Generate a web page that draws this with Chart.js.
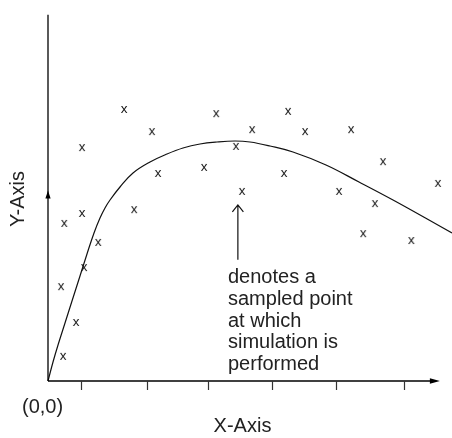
<!DOCTYPE html>
<html>
<head>
<meta charset="utf-8">
<script src="https://cdn.jsdelivr.net/npm/chart.js@4/dist/chart.umd.min.js"></script>
<style>
  html, body { margin: 0; padding: 0; background: #fff; }
  canvas { display: block; }
</style>
</head>
<body>
<canvas id="c" width="452" height="438"></canvas>
<script>
// ---- data ----
const sampleX = [18.8, 41.6, 59.4, 25.7, 50.5, 63.6, 75.0, 8.4, 46.5, 82.9, 38.6, 27.2, 58.4, 96.5, 48.0, 72.0, 21.3, 8.4, 80.9, 4.0, 78.0, 12.4, 89.9, 8.9, 3.2, 6.9, 3.7];
const sampleY = [71.4, 70.3, 70.9, 65.6, 66.1, 65.6, 66.1, 61.4, 61.7, 57.7, 56.2, 54.6, 54.6, 52.0, 49.9, 49.9, 45.1, 44.1, 46.7, 41.5, 38.8, 36.5, 37.0, 29.9, 24.9, 15.5, 6.6];
const curveX = [0, 1.24, 2.48, 4.21, 5.94, 7.92, 9.65, 11.39, 12.87, 14.11, 15.35, 17.82, 21.04, 25.25, 29.46, 33.42, 37.62, 41.83, 46.29, 50.0, 54.95, 60.64, 68.81, 76.98, 85.40, 94.31, 100];
const curveY = [0, 4.99, 9.45, 15.22, 21.00, 27.56, 33.33, 38.85, 42.78, 45.41, 47.51, 50.92, 54.59, 57.48, 59.58, 61.15, 62.20, 62.73, 62.99, 62.73, 61.68, 60.10, 56.69, 52.23, 47.51, 42.26, 38.85];
const xTicks = [8.2, 24.5, 39.6, 55.4, 71.3, 88.1];
const xAxisEnd = 97.0;
const yAxisEnd = 96.1;
const yArrowAt = 50.0;
const notePointX = 47.0;
const noteArrowTipY = 46.2;
const noteArrowTailY = 31.8;
const noteLines = ['denotes a', 'sampled point', 'at which', 'simulation is', 'performed'];
const originLabel = '(0,0)';
const xTitle = 'X-Axis';
const yTitle = 'Y-Axis';

const FONT = '"Liberation Sans", Arial, Helvetica, sans-serif';

// glyph "x" used as the marker
const mark = document.createElement('canvas');
mark.width = 14; mark.height = 14;
(function () {
  const g = mark.getContext('2d');
  g.fillStyle = '#111';
  g.font = '13.5px ' + FONT;
  g.textAlign = 'center';
  g.textBaseline = 'alphabetic';
  g.fillText('x', 7, 10.5);
})();

const decor = {
  id: 'decor',
  afterDraw(chart) {
    const ctx = chart.ctx;
    const xs = chart.scales.x, ys = chart.scales.y;
    const ox = xs.getPixelForValue(0), oy = ys.getPixelForValue(0);
    ctx.save();
    ctx.strokeStyle = '#000';
    ctx.fillStyle = '#000';
    ctx.lineWidth = 1.3;
    // x axis
    const xe = xs.getPixelForValue(xAxisEnd);
    ctx.beginPath();
    ctx.moveTo(ox, oy); ctx.lineTo(xe - 8, oy); ctx.stroke();
    ctx.beginPath();
    ctx.moveTo(xe, oy); ctx.lineTo(xe - 10, oy - 2.8); ctx.lineTo(xe - 10, oy + 2.8); ctx.closePath(); ctx.fill();
    // y axis
    const ye = ys.getPixelForValue(yAxisEnd);
    ctx.beginPath();
    ctx.moveTo(ox, oy); ctx.lineTo(ox, ye); ctx.stroke();
    const ya = ys.getPixelForValue(yArrowAt);
    ctx.beginPath();
    ctx.moveTo(ox, ya); ctx.lineTo(ox - 2.6, ya + 8); ctx.lineTo(ox + 2.6, ya + 8); ctx.closePath(); ctx.fill();
    // ticks
    ctx.strokeStyle = '#333';
    ctx.lineWidth = 1.2;
    xTicks.forEach(t => {
      const px = Math.round(xs.getPixelForValue(t)) + 0.5;
      ctx.beginPath(); ctx.moveTo(px, oy); ctx.lineTo(px, oy + 9); ctx.stroke();
    });
    // annotation arrow
    const ax = xs.getPixelForValue(notePointX);
    const at = ys.getPixelForValue(noteArrowTipY);
    const ab = ys.getPixelForValue(noteArrowTailY);
    ctx.strokeStyle = '#111';
    ctx.lineWidth = 1.2;
    ctx.beginPath();
    ctx.moveTo(ax, ab); ctx.lineTo(ax, at);
    ctx.moveTo(ax - 5.5, at + 7); ctx.lineTo(ax, at); ctx.lineTo(ax + 5.5, at + 7);
    ctx.stroke();
    // texts
    ctx.fillStyle = '#222';
    ctx.font = '20px ' + FONT;
    ctx.textAlign = 'left';
    ctx.textBaseline = 'alphabetic';
    noteLines.forEach((s, i) => ctx.fillText(s, 228, 283.3 + i * 21.7));
    ctx.fillText(originLabel, 22, 413);
    ctx.textAlign = 'center';
    ctx.fillText(xTitle, 242.5, 432);
    ctx.save();
    ctx.translate(24, 199);
    ctx.rotate(-Math.PI / 2);
    ctx.fillText(yTitle, 0, 0);
    ctx.restore();
    ctx.restore();
  }
};

new Chart(document.getElementById('c'), {
  type: 'scatter',
  data: {
    datasets: [
      {
        label: 'curve',
        data: curveX.map((x, i) => ({ x, y: curveY[i] })),
        showLine: true,
        borderColor: '#111',
        borderWidth: 1.2,
        pointRadius: 0,
        tension: 0.4,
        fill: false,
        clip: false
      },
      {
        label: 'samples',
        data: sampleX.map((x, i) => ({ x, y: sampleY[i] })),
        showLine: false,
        pointStyle: mark,
        pointRadius: 5,
        clip: false
      }
    ]
  },
  options: {
    responsive: false,
    animation: false,
    events: [],
    layout: { autoPadding: false, padding: { left: 48, right: 0, top: 0, bottom: 57 } },
    plugins: { legend: { display: false }, tooltip: { enabled: false } },
    scales: {
      x: { type: 'linear', min: 0, max: 100, display: false },
      y: { type: 'linear', min: 0, max: 100, display: false }
    }
  },
  plugins: [decor]
});
</script>
</body>
</html>
